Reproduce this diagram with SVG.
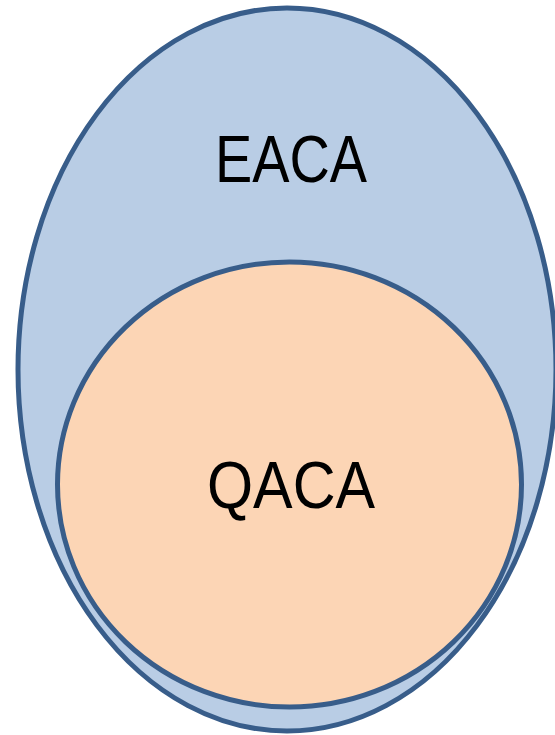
<svg xmlns="http://www.w3.org/2000/svg" width="555" height="735" viewBox="0 0 555 735">
<style>
.shape{stroke:#385D8A;stroke-width:5}
.lbl{font-family:"Liberation Sans",Arial,sans-serif;font-size:66px;fill:#000}
</style>
<rect width="555" height="735" fill="#fff"/>
<g id="eaca">
<ellipse class="shape" cx="287" cy="369.5" rx="269" ry="361.5" fill="#B9CDE5"/>
<text class="lbl" x="215" y="182" textLength="152" lengthAdjust="spacingAndGlyphs">EACA</text>
</g>
<g id="qaca">
<ellipse class="shape" cx="289.5" cy="484.5" rx="232" ry="222.5" fill="#FCD5B5"/>
<text class="lbl" x="207" y="508" textLength="168" lengthAdjust="spacingAndGlyphs">QACA</text>
</g>
<g id="connectors"/>
</svg>
